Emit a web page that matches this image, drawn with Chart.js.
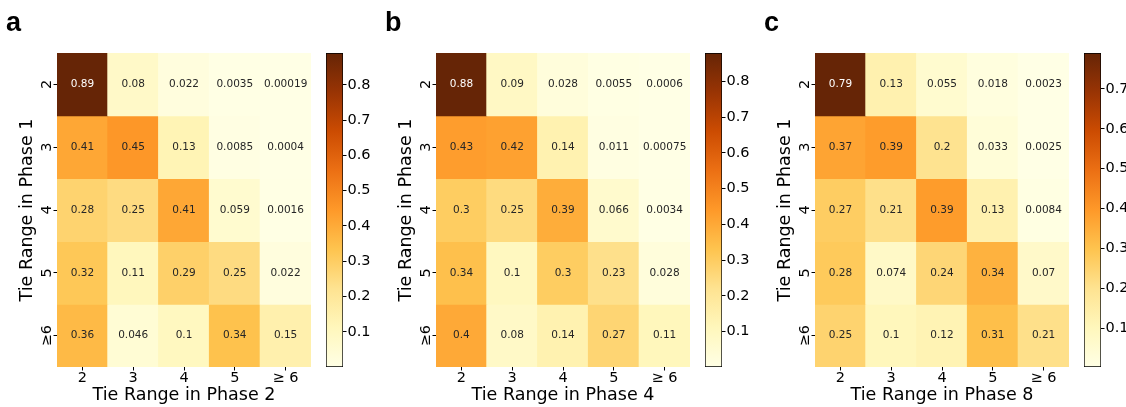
<!DOCTYPE html>
<html>
<head>
<meta charset="utf-8">
<script src="https://cdn.jsdelivr.net/npm/chart.js@4.4.1/dist/chart.umd.min.js"></script>
<style>
  html, body { margin: 0; padding: 0; background: #fff; overflow: hidden; }
  body { width: 1126px; height: 407px; position: relative; }
  .box { position: absolute; top: 0; height: 407px; }
</style>
</head>
<body>
<div class="box" style="left:0px;width:311px"><canvas id="heatA"></canvas></div>
<div class="box" style="left:326px;width:62px"><canvas id="barA"></canvas></div>
<div class="box" style="left:379px;width:311px"><canvas id="heatB"></canvas></div>
<div class="box" style="left:705px;width:62px"><canvas id="barB"></canvas></div>
<div class="box" style="left:758px;width:311px"><canvas id="heatC"></canvas></div>
<div class="box" style="left:1084px;width:62px"><canvas id="barC"></canvas></div>
<script>
const rowLabels = ["2", "3", "4", "5", "≥6"];
const colLabels = ["2", "3", "4", "5", "≥ 6"];

const valuesA = [
  [0.89, 0.08, 0.022, 0.0035, 0.00019],
  [0.41, 0.45, 0.13, 0.0085, 0.0004],
  [0.28, 0.25, 0.41, 0.059, 0.0016],
  [0.32, 0.11, 0.29, 0.25, 0.022],
  [0.36, 0.046, 0.1, 0.34, 0.15]
];
const valuesB = [
  [0.88, 0.09, 0.028, 0.0055, 0.0006],
  [0.43, 0.42, 0.14, 0.011, 0.00075],
  [0.3, 0.25, 0.39, 0.066, 0.0034],
  [0.34, 0.1, 0.3, 0.23, 0.028],
  [0.4, 0.08, 0.14, 0.27, 0.11]
];
const valuesC = [
  [0.79, 0.13, 0.055, 0.018, 0.0023],
  [0.37, 0.39, 0.2, 0.033, 0.0025],
  [0.27, 0.21, 0.39, 0.13, 0.0084],
  [0.28, 0.074, 0.24, 0.34, 0.07],
  [0.25, 0.1, 0.12, 0.31, 0.21]
];

const cbTicksA = [0.1, 0.2, 0.3, 0.4, 0.5, 0.6, 0.7, 0.8];
const cbTicksB = [0.1, 0.2, 0.3, 0.4, 0.5, 0.6, 0.7, 0.8];
const cbTicksC = [0.1, 0.2, 0.3, 0.4, 0.5, 0.6, 0.7];

const yTitle = "Tie Range in Phase 1";
const xTitleA = "Tie Range in Phase 2";
const xTitleB = "Tie Range in Phase 4";
const xTitleC = "Tie Range in Phase 8";

// matplotlib YlOrBr
const ylOrBr = ["#ffffe5", "#fff7bc", "#fee391", "#fec44f", "#fe9929",
                "#ec7014", "#cc4c02", "#993404", "#662506"];
const FONT = "'DejaVu Sans', sans-serif";

function hexToRgb(h) {
  return [1, 3, 5].map(i => parseInt(h.slice(i, i + 2), 16));
}

function cmap(t) {
  t = Math.min(1, Math.max(0, t));
  const s = t * (ylOrBr.length - 1);
  const i = Math.min(Math.floor(s), ylOrBr.length - 2);
  const f = s - i;
  const a = hexToRgb(ylOrBr[i]), b = hexToRgb(ylOrBr[i + 1]);
  return a.map((v, k) => Math.round(v + (b[k] - v) * f));
}

function rgbStr(c) { return "rgb(" + c.join(",") + ")"; }

// seaborn picks dark or white annotation text by luminance
function textColor(c) {
  const lin = c.map(v => {
    v /= 255;
    return v <= 0.03928 ? v / 12.92 : Math.pow((v + 0.055) / 1.055, 2.4);
  });
  const lum = 0.2126 * lin[0] + 0.7152 * lin[1] + 0.0722 * lin[2];
  return lum > 0.408 ? "#262626" : "#ffffff";
}

function fmt(v) { return String(Number(v.toPrecision(2))); }

function heatmap(id, values, xTitle, letter) {
  const flat = values.flat();
  const vmin = Math.min(...flat), vmax = Math.max(...flat);

  const datasets = rowLabels.map((_, r) => ({
    data: colLabels.map(() => [r, r + 1]),
    backgroundColor: values[r].map(v => rgbStr(cmap((v - vmin) / (vmax - vmin)))),
    grouped: false,
    barPercentage: 1,
    categoryPercentage: 1,
    borderWidth: 0,
    inflateAmount: 0.5
  }));

  const cellText = {
    id: "cellText",
    afterDatasetsDraw(chart) {
      const ctx = chart.ctx, xs = chart.scales.x, ys = chart.scales.y;
      ctx.save();
      ctx.font = "10.5px " + FONT;
      ctx.textAlign = "center";
      ctx.textBaseline = "middle";
      values.forEach((row, r) => row.forEach((v, c) => {
        ctx.fillStyle = textColor(cmap((v - vmin) / (vmax - vmin)));
        ctx.fillText(fmt(v), xs.getPixelForValue(c), ys.getPixelForValue(r + 0.5));
      }));
      // rotated row labels, like matplotlib
      ctx.font = "14.5px " + FONT;
      ctx.fillStyle = "#000";
      ctx.textBaseline = "alphabetic";
      rowLabels.forEach((lab, r) => {
        ctx.save();
        ctx.translate(chart.chartArea.left - 6.5, ys.getPixelForValue(r + 0.5));
        ctx.rotate(-Math.PI / 2);
        ctx.fillText(lab, 0, 0);
        ctx.restore();
      });
      // panel letter
      ctx.font = "bold 27px 'Liberation Sans', Arial, sans-serif";
      ctx.textAlign = "left";
      ctx.fillText(letter, 6, 30.5);
      ctx.restore();
    }
  };

  return new Chart(document.getElementById(id), {
    type: "bar",
    data: { labels: colLabels, datasets: datasets },
    plugins: [cellText],
    options: {
      responsive: true,
      maintainAspectRatio: false,
      animation: false,
      layout: { padding: { top: 53, left: 0, right: 0, bottom: 0 } },
      plugins: { legend: { display: false }, tooltip: { enabled: false } },
      scales: {
        x: {
          offset: true,
          grid: { drawOnChartArea: false, offset: false, tickLength: 3.5, color: "#000" },
          border: { display: false },
          ticks: { color: "#000", padding: 0, maxRotation: 0, autoSkip: false,
                   font: { family: FONT, size: 14.5, lineHeight: 1 } },
          title: { display: true, text: xTitle, color: "#000",
                   font: { family: FONT, size: 17.5 }, padding: { top: 0, bottom: 1.5 } },
          afterFit: s => { s.height = 40; }
        },
        y: {
          min: 0,
          max: rowLabels.length,
          reverse: true,
          afterBuildTicks: s => { s.ticks = rowLabels.map((_, r) => ({ value: r + 0.5 })); },
          ticks: { display: false },
          grid: { drawOnChartArea: false, tickLength: 3.5, color: "#000" },
          border: { display: false },
          title: { display: true, text: yTitle, color: "#000",
                   font: { family: FONT, size: 17.5 }, padding: { top: 17, bottom: 0 } },
          afterFit: s => { s.width = 57; }
        }
      }
    }
  });
}

function colorbar(id, values, ticks) {
  const flat = values.flat();
  const vmin = Math.min(...flat), vmax = Math.max(...flat);
  return new Chart(document.getElementById(id), {
    type: "bar",
    data: {
      labels: [""],
      datasets: [{
        data: [[vmin, vmax]],
        backgroundColor: (c) => {
          const area = c.chart.chartArea;
          if (!area) return ylOrBr[0];
          const g = c.chart.ctx.createLinearGradient(0, area.bottom, 0, area.top);
          ylOrBr.forEach((col, i) => g.addColorStop(i / (ylOrBr.length - 1), col));
          return g;
        },
        borderColor: "#000",
        borderWidth: 1,
        borderSkipped: false,
        barPercentage: 1,
        categoryPercentage: 1
      }]
    },
    options: {
      responsive: true,
      maintainAspectRatio: false,
      animation: false,
      layout: { padding: { top: 53, bottom: 40, left: 0, right: 0 } },
      plugins: { legend: { display: false }, tooltip: { enabled: false } },
      scales: {
        x: { display: false },
        y: {
          position: "right",
          min: vmin,
          max: vmax,
          afterBuildTicks: s => { s.ticks = ticks.map(v => ({ value: v })); },
          ticks: { color: "#000", padding: 1, callback: v => v.toFixed(1),
                   font: { family: FONT, size: 14.5 } },
          grid: { drawOnChartArea: false, tickLength: 3.5, color: "#000" },
          border: { display: false },
          afterFit: s => { s.width = 45; }
        }
      }
    }
  });
}

heatmap("heatA", valuesA, xTitleA, "a");
colorbar("barA", valuesA, cbTicksA);
heatmap("heatB", valuesB, xTitleB, "b");
colorbar("barB", valuesB, cbTicksB);
heatmap("heatC", valuesC, xTitleC, "c");
colorbar("barC", valuesC, cbTicksC);
</script>
</body>
</html>
